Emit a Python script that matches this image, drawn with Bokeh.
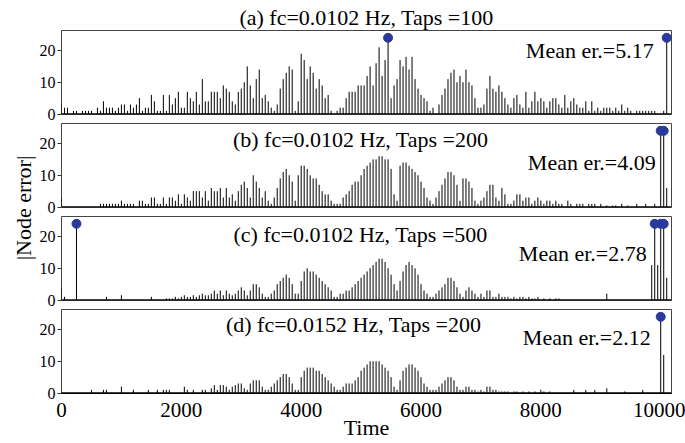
import math
from bokeh.plotting import figure
from bokeh.layouts import column, row
from bokeh.models import Label, FixedTicker, Span, Range1d
from bokeh.embed import file_html
from bokeh.resources import INLINE

# ---------------- data ----------------
time = list(range(0, 10101, 50))  # sample instants (203 stems)

err_a = [3,2,2,0,1,1,0,1,1,1,
         1,0,2,1,4,2,2,2,1,2,
         3,3,1,3,2,3,5,1,2,2,
         6,4,1,1,6,1,6,3,5,7,
         2,2,7,5,4,7,3,11,4,4,
         7,7,7,5,9,8,7,4,3,7,
         8,10,15,9,5,11,14,5,6,4,
         2,1,3,8,11,13,15,14,1,4,
         19,17,11,15,13,8,11,9,5,6,
         1,0,1,2,2,5,7,7,7,9,
         9,9,12,15,9,16,21,12,17,24,
         5,9,11,17,15,18,14,18,11,8,
         6,5,4,1,2,0,3,6,8,11,
         13,14,10,12,10,14,10,9,5,2,
         2,3,8,12,8,7,9,7,5,3,
         2,5,6,3,2,7,2,4,7,4,
         5,4,2,4,5,5,3,2,6,2,
         4,5,3,2,2,4,1,4,1,2,
         1,2,2,2,1,2,1,3,1,2,
         1,0,1,1,1,1,1,1,1,0,
         0,1,24]

err_b = [3,0,0,0,0,0,0,0,0,0,
         0,0,0,1,1,1,1,1,1,1,
         2,1,1,1,1,0,2,2,1,1,
         3,3,1,1,3,1,3,3,2,4,
         1,4,3,2,5,5,5,3,5,2,
         6,5,5,6,3,6,3,4,2,5,
         7,8,6,3,10,8,6,3,5,2,
         1,3,6,9,11,12,10,8,2,10,
         13,13,12,10,9,9,7,5,4,4,
         2,1,1,1,3,4,5,7,8,8,
         10,12,13,14,15,15,16,16,15,15,
         12,4,2,13,14,14,13,12,11,10,
         8,6,3,2,1,3,5,7,9,11,
         11,10,7,2,9,9,8,6,2,1,
         2,3,5,7,7,3,2,6,4,1,
         1,2,4,4,2,3,3,1,2,3,
         2,1,2,2,1,2,1,1,0,2,
         1,0,1,1,1,0,1,1,1,0,
         1,0,0.5,0,0.5,0.5,0,1,0,0.5,
         0,0,1,0,0,1,0,0,1,0,
         24,24,6]

err_c = [4,1,0,0,0,24,0,0,0,0,
         0,0,0,0,0,1,0,0,0,0,
         1.5,0,0,0,0,0,0,0,0,0,
         1,0,0,0,0,0.5,0.5,0.5,1,0.5,
         1,1.5,1,1,1.5,1,1.5,2,1.5,1.5,
         2,3,2,3,1.5,3,2,1.5,2,3,
         4,3,1.5,3,5,5,4,2,1,1,
         2,3,5,6,7,8,7,5,2,2,
         6,9,10,9,9,8,7,6,5,4,
         3,1,1,2,2,3,3,4,5,6,
         7,8,9,10,11,12,13,13,12,10,
         8,5,3,6,9,11,12,11,10,8,
         5,3,2,1,1,2,3,4,5,7,
         7,6,4,2,1,3,4,3,2,1,
         2,1,3,3,1,1,2,1,1,1,
         0.5,1,0.5,1,1,0.5,1,0.5,0.5,1,
         0,0.5,0,0.5,0,0.5,0.5,0,0,0,
         0,0,0,0,0,0,0,0,0,0,
         0,0,2,0,0,0,0,0,0,0,
         0,0,0,0,0,0,0,11,24,11,
         24,24,7]

err_d = [0.5,0,0,0,0,0,0,0,0,0,
         1,0,0,0,1,1,0,0,0,0,
         2,0,0,0,1,0,0,0,0,1,
         0,0,1,0,1,1,1,0,0,0,
         0,2,1,0,1,0,0,1,1,0,
         1.5,2.5,1,2.5,2.5,2,1,2,2.5,3,
         3,1.5,1,3,4,4,4,2,1,1,
         2,3,4,5,6,6,5,3,1,1,
         5,7,8,8,8,7,7,6,5,4,
         3,2,1,1,2,3,3,3,4,5,
         7,8,9,10,10,10,10,9,8,7,
         5,2,1,4,7,8,9,9,8,7,
         5,3,2,1,1,1,2,3,4,5,
         5,4,2,1,1,2,2,1,1,0.5,
         1,0.5,2,2,1,1,0.5,0.5,0.5,0.5,
         0,0.5,0.5,0,0.5,0,0.5,0,0.5,0,
         1,0.5,0,0.5,0,0,0,0,0,0,
         0,1,0,0,0,1,0,0,1,0,
         0,0,1.5,0,0,0,0,0,0.5,0,
         0,0,0,0,1,0,0,0,0,0,
         24,12,0]

titles = ["(a) fc=0.0102 Hz, Taps =100",
          "(b) fc=0.0102 Hz, Taps =200",
          "(c) fc=0.0102 Hz, Taps =500",
          "(d) fc=0.0152 Hz, Taps =200"]
mean_texts = ["Mean er.=5.17", "Mean er.=4.09", "Mean er.=2.78", "Mean er.=2.12"]
y_ticks = [0, 10, 20]
x_ticks = [0, 2000, 4000, 6000, 8000, 10000]

# ---------------- style ----------------
FONT = "Liberation Serif"
STEM = "black"
DOT = "#2a3a9a"
Y0, Y1 = -0.15, 26.3
X0, X1 = 0, 10180
PEAK = 23  # stems at the error ceiling get a marker

# layout: (height, top border, bottom border, title x, title y, mean x, mean y)
layout_spec = [
    (123, 30, 9, None, None, 9883, 20.0),
    (93, 0, 9, 4992, 21.2, 9917, 13.9),
    (93, 0, 9, 4992, 20.7, 9766, 14.5),
    (134, 0, 50, 4875, 21.6, 9833, 17.5),
]

series = [err_a, err_b, err_c, err_d]
panels = []
for k, vals in enumerate(series):
    h, bt, bb, tx, ty, mx, my = layout_spec[k]
    p = figure(width=649, height=h, output_backend="svg", toolbar_location=None,
               x_range=Range1d(X0, X1), y_range=Range1d(Y0, Y1),
               min_border_left=25, min_border_right=14,
               min_border_top=bt, min_border_bottom=bb)
    p.background_fill_color = "white"
    p.border_fill_color = "white"
    p.outline_line_color = "#444444"
    p.outline_line_width = 1
    p.grid.visible = False

    p.segment(x0=time, y0=[0] * len(time), x1=time, y1=vals,
              line_color=STEM, line_width=1)
    p.add_layout(Span(location=0, dimension="width", line_color="black", line_width=1.5))
    mxs = [t for t, v in zip(time, vals) if v >= PEAK]
    mys = [v for v in vals if v >= PEAK]
    p.scatter(mxs, mys, size=9, fill_color=DOT, line_color=DOT)

    p.yaxis.ticker = FixedTicker(ticks=y_ticks)
    p.yaxis.major_label_text_font = FONT
    p.yaxis.major_label_text_font_size = "16px"
    p.yaxis.major_label_text_color = "black"
    p.yaxis.major_tick_in = 0
    p.yaxis.major_tick_out = 4
    p.yaxis.major_tick_line_color = "#333333"
    p.yaxis.minor_tick_line_color = None
    p.yaxis.axis_line_color = None
    p.yaxis.major_label_standoff = 2

    if k < 3:
        p.xaxis.visible = False
    else:
        p.xaxis.ticker = FixedTicker(ticks=x_ticks)
        p.xaxis.major_label_text_font = FONT
        p.xaxis.major_label_text_font_size = "21px"
        p.xaxis.major_label_text_color = "black"
        p.xaxis.major_tick_in = 0
        p.xaxis.major_tick_out = 0
        p.xaxis.minor_tick_line_color = None
        p.xaxis.axis_line_color = "black"
        p.xaxis.major_label_standoff = 9
        p.xaxis.axis_label = "Time"
        p.xaxis.axis_label_text_font = FONT
        p.xaxis.axis_label_text_font_size = "22px"
        p.xaxis.axis_label_text_font_style = "normal"
        p.xaxis.axis_label_text_color = "black"
        p.xaxis.axis_label_standoff = -5

    if k == 0:
        p.title.text = titles[k]
        p.title.align = "center"
        p.title.text_font = FONT
        p.title.text_font_size = "22px"
        p.title.text_font_style = "normal"
        p.title.text_color = "black"
        p.title.standoff = 1
    else:
        p.add_layout(Label(x=tx, y=ty, text=titles[k], text_font=FONT,
                           text_font_size="22px", text_align="center",
                           text_baseline="alphabetic", text_color="black"))
    p.add_layout(Label(x=mx, y=my, text=mean_texts[k], text_font=FONT,
                       text_font_size="22px", text_align="right",
                       text_baseline="alphabetic", text_color="black"))
    panels.append(p)

# side strip carrying the shared y-axis label
side = figure(width=36, height=443, output_backend="svg", toolbar_location=None,
              x_range=Range1d(0, 36), y_range=Range1d(0, 443),
              min_border=0, min_border_left=0, min_border_right=0,
              min_border_top=0, min_border_bottom=0)
side.axis.visible = False
side.grid.visible = False
side.outline_line_color = None
side.border_fill_color = "white"
side.add_layout(Label(x=23, y=235.5, text="|Node error|", angle=math.pi / 2,
                      text_font=FONT, text_font_size="22px", text_align="center",
                      text_baseline="middle", text_color="black"))

layout = row(side, column(*panels, spacing=0), spacing=0)
open("out.html", "w").write(file_html(layout, INLINE))
